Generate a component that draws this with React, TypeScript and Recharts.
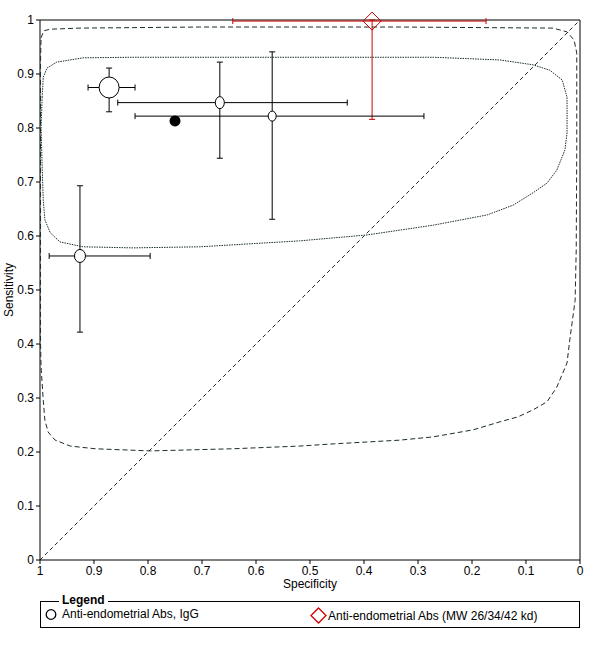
import React from "react";
import {
  ScatterChart, Scatter, XAxis, YAxis, ErrorBar, ReferenceLine, Label,
} from "recharts";

const FONT = "'Liberation Sans', Arial, sans-serif";

// axis ticks
const X_TICKS = [1, 0.9, 0.8, 0.7, 0.6, 0.5, 0.4, 0.3, 0.2, 0.1, 0];
const Y_TICKS = [0, 0.1, 0.2, 0.3, 0.4, 0.5, 0.6, 0.7, 0.8, 0.9, 1];

// Anti-endometrial Abs, IgG - individual studies
const IGG_SPEC = [0.872, 0.667, 0.57, 0.926];
const IGG_SENS = [0.875, 0.847, 0.822, 0.563];
const IGG_SPEC_CI = [[0.824, 0.911], [0.431, 0.856], [0.289, 0.824], [0.796, 0.983]];
const IGG_SENS_CI = [[0.83, 0.911], [0.744, 0.922], [0.631, 0.941], [0.422, 0.693]];

// summary point (IgG)
const SUMMARY_SPEC = [0.75];
const SUMMARY_SENS = [0.813];

// Anti-endometrial Abs (MW 26/34/42 kd)
const MW_SPEC = [0.385];
const MW_SENS = [0.998];
const MW_SPEC_CI = [[0.174, 0.643]];
const MW_SENS_CI = [[0.816, 1.0]];

// 95% confidence region [spec, sens]
const CONF_REGION = [
  [0.996, 0.857], [0.994, 0.894], [0.987, 0.911], [0.969, 0.922], [0.92, 0.93],
  [0.828, 0.931], [0.519, 0.931], [0.272, 0.931], [0.148, 0.926], [0.087, 0.917],
  [0.056, 0.907], [0.033, 0.889], [0.024, 0.857], [0.024, 0.791], [0.028, 0.759],
  [0.043, 0.722], [0.061, 0.698], [0.087, 0.68], [0.124, 0.657], [0.172, 0.639],
  [0.272, 0.62], [0.394, 0.602], [0.519, 0.591], [0.704, 0.58], [0.828, 0.578],
  [0.92, 0.58], [0.963, 0.589], [0.981, 0.606], [0.991, 0.63], [0.994, 0.667],
  [0.996, 0.728], [0.998, 0.802], [0.996, 0.857],
];

// 95% prediction region [spec, sens]
const PRED_REGION = [
  [0.998, 0.967], [0.993, 0.98], [0.981, 0.983], [0.926, 0.985], [0.704, 0.987],
  [0.333, 0.987], [0.05, 0.985], [0.024, 0.978], [0.011, 0.963], [0.006, 0.939],
  [0.006, 0.759], [0.007, 0.574], [0.009, 0.481], [0.019, 0.407], [0.024, 0.365],
  [0.043, 0.32], [0.061, 0.293], [0.087, 0.278], [0.115, 0.265], [0.148, 0.256],
  [0.198, 0.241], [0.272, 0.228], [0.333, 0.222], [0.457, 0.215], [0.519, 0.211],
  [0.643, 0.206], [0.796, 0.202], [0.898, 0.206], [0.944, 0.211], [0.972, 0.222],
  [0.985, 0.237], [0.991, 0.259], [0.994, 0.296], [0.998, 0.357], [0.999, 0.402],
  [0.999, 0.667], [0.999, 0.926], [0.998, 0.967],
];

// marker sizes (px), per IgG study
const STUDY_RX = [10, 4.5, 4, 5.5];
const STUDY_RY = [10.5, 6, 5, 6.5];

const toPoints = (spec: number[], sens: number[], specCi?: number[][], sensCi?: number[][]) =>
  spec.map((s, i) => ({
    spec: s,
    sens: sens[i],
    errSpec: specCi ? [s - specCi[i][0], specCi[i][1] - s] : undefined,
    errSens: sensCi ? [sens[i] - sensCi[i][0], sensCi[i][1] - sens[i]] : undefined,
  }));

const iggData = toPoints(IGG_SPEC, IGG_SENS, IGG_SPEC_CI, IGG_SENS_CI);
const summaryData = toPoints(SUMMARY_SPEC, SUMMARY_SENS);
const mwData = toPoints(MW_SPEC, MW_SENS, MW_SPEC_CI, MW_SENS_CI);
const confData = CONF_REGION.map(([spec, sens]) => ({ spec, sens }));
const predData = PRED_REGION.map(([spec, sens]) => ({ spec, sens }));

const NoDot = () => <g />;

function StudyShape(p: any) {
  let i = typeof p.index === "number" ? p.index : -1;
  if (i < 0) i = IGG_SPEC.indexOf(p.payload?.spec);
  if (i < 0) i = 0;
  return <ellipse cx={p.cx} cy={p.cy} rx={STUDY_RX[i]} ry={STUDY_RY[i]} fill="#fff" stroke="#000" strokeWidth={1} />;
}

function SummaryShape(p: any) {
  return <circle cx={p.cx} cy={p.cy} r={5.5} fill="#000" />;
}

function DiamondShape(p: any) {
  const s = 9;
  return (
    <path d={`M${p.cx},${p.cy - s}L${p.cx + s},${p.cy}L${p.cx},${p.cy + s}L${p.cx - s},${p.cy}Z`}
      fill="none" stroke="#d00000" strokeWidth={1} />
  );
}

const tick = { fill: "#000", fontSize: 12, fontFamily: FONT };
const CURVE = "#1c2c2c";

export default function App() {
  return (
    <div style={{ position: "absolute", left: 0, top: 0, width: 600, height: 648, background: "#fff", fontFamily: FONT }}>
      <ScatterChart width={600} height={600} margin={{ top: 20, right: 20, bottom: 10, left: 0 }}>
        <XAxis type="number" dataKey="spec" domain={[0, 1]} reversed ticks={X_TICKS} interval={0}
          tick={tick} tickSize={4} tickMargin={2} height={30}
          axisLine={{ stroke: "#000" }} tickLine={{ stroke: "#000" }}>
          <Label value="Specificity" position="insideBottom" offset={2}
            style={{ fill: "#000", fontSize: 12, fontFamily: FONT }} />
        </XAxis>
        <YAxis type="number" dataKey="sens" domain={[0, 1]} ticks={Y_TICKS} interval={0}
          tick={tick} tickSize={4} tickMargin={2} width={40}
          axisLine={{ stroke: "#000" }} tickLine={{ stroke: "#000" }}>
          <Label content={() => (
            <text x={13} y={290} transform="rotate(-90 13 290)" textAnchor="middle"
              fontSize={12} fontFamily={FONT} fill="#000">Sensitivity</text>
          )} />
        </YAxis>
        <ReferenceLine y={1} stroke="#000" />
        <ReferenceLine x={0} stroke="#000" />
        <ReferenceLine segment={[{ x: 1, y: 0 }, { x: 0, y: 1 }]} stroke={CURVE} strokeDasharray="4 3" />
        <Scatter data={predData} line={{ stroke: CURVE, strokeDasharray: "5 3", strokeWidth: 1 }}
          lineType="joint" shape={NoDot} isAnimationActive={false} />
        <Scatter data={confData} line={{ stroke: CURVE, strokeDasharray: "1.5 1", strokeWidth: 1 }}
          lineType="joint" shape={NoDot} isAnimationActive={false} />
        <Scatter data={mwData} shape={DiamondShape} isAnimationActive={false}>
          <ErrorBar dataKey="errSpec" direction="x" width={3} stroke="#d00000" strokeWidth={1} />
          <ErrorBar dataKey="errSens" direction="y" width={3} stroke="#d00000" strokeWidth={1} />
        </Scatter>
        <Scatter data={iggData} shape={StudyShape} isAnimationActive={false}>
          <ErrorBar dataKey="errSpec" direction="x" width={3} stroke="#000" strokeWidth={1} />
          <ErrorBar dataKey="errSens" direction="y" width={3} stroke="#000" strokeWidth={1} />
        </Scatter>
        <Scatter data={summaryData} shape={SummaryShape} isAnimationActive={false} />
      </ScatterChart>

      <div style={{ position: "absolute", left: 40, top: 601, width: 538, height: 25, border: "1px solid #000" }} />
      <div style={{ position: "absolute", left: 59, top: 593, padding: "0 3px", background: "#fff",
        fontWeight: "bold", fontSize: 12, lineHeight: "14px", color: "#000" }}>Legend</div>
      <div style={{ position: "absolute", left: 45, top: 607, display: "flex", alignItems: "center",
        fontSize: 12, lineHeight: "14px", color: "#000" }}>
        <svg width={13} height={13} style={{ marginRight: 4 }}>
          <circle cx={6} cy={6.5} r={4.8} fill="#fff" stroke="#000" strokeWidth={1.3} />
        </svg>
        <span>Anti-endometrial Abs, IgG</span>
      </div>
      <div style={{ position: "absolute", left: 310, top: 607, display: "flex", alignItems: "center",
        fontSize: 12, lineHeight: "14px", color: "#000" }}>
        <svg width={17} height={17} style={{ marginRight: 1 }}>
          <path d="M8.5,1L16,8.5L8.5,16L1,8.5Z" fill="#fff" stroke="#d00000" strokeWidth={1.3} />
        </svg>
        <span>Anti-endometrial Abs (MW 26/34/42 kd)</span>
      </div>
    </div>
  );
}
